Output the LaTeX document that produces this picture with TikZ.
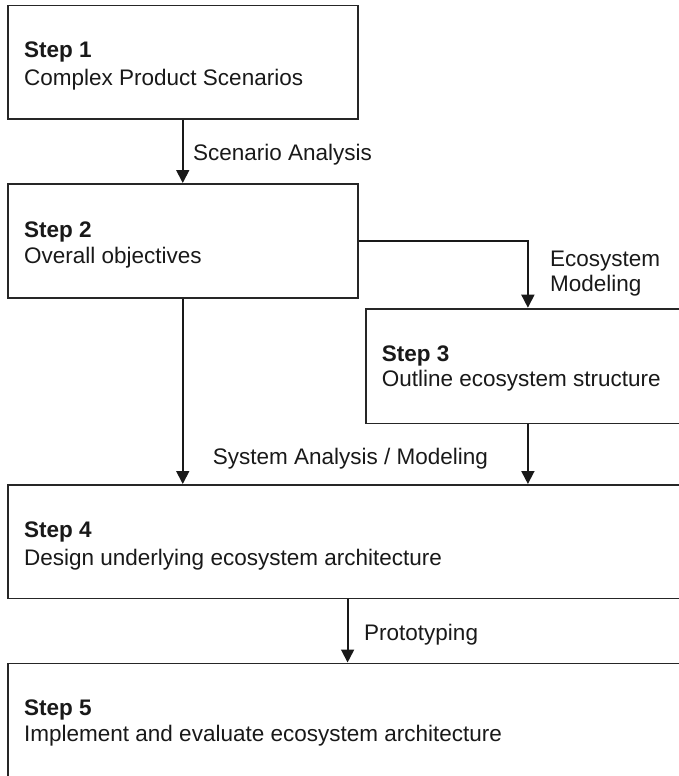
\documentclass[tikz,border=0pt]{standalone}
\usepackage{fontspec}
\setmainfont{Liberation Sans}
\usetikzlibrary{arrows.meta,calc}
\begin{document}
\begin{tikzpicture}[x=1pt,y=-1pt,
  stepbox/.style={draw=black!85,line width=1.8pt,rectangle,inner sep=0pt,anchor=north west,fill=white},
  txt/.style={anchor=base west,inner sep=0pt,text=black!90,font=\fontsize{22.5}{27}\selectfont},
  ttl/.style={txt,font=\fontsize{22.5}{27}\selectfont\bfseries},
  conn/.style={draw=black!90,line width=1.8pt,-{Triangle[width=13pt,length=13pt]}}]
\useasboundingbox (0,0) rectangle (679,776);
\clip (0,0) rectangle (679,776);
% boxes
\node[stepbox,minimum width=350.3pt,minimum height=113.3pt] (s1) at (6.7,4.7) {};
\node[stepbox,minimum width=350.3pt,minimum height=114pt] (s2) at (6.7,183) {};
\node[stepbox,minimum width=324pt,minimum height=114.8pt] (s3) at (365,307.7) {};
\node[stepbox,minimum width=680pt,minimum height=113.5pt] (s4) at (6.7,484) {};
\node[stepbox,minimum width=680pt,minimum height=113.5pt] (s5) at (6.7,662.5) {};
% texts
\node[ttl] (t1) at ($(s1.north west)+(17.3,53.3)$) {Step 1};
\node[txt] (d1) at ($(s1.north west)+(17.3,80.3)$) {Complex Product Scenarios};
\node[ttl] (t2) at ($(s2.north west)+(17.3,54)$) {Step 2};
\node[txt] (d2) at ($(s2.north west)+(17.3,80)$) {Overall objectives};
\node[ttl] (t3) at ($(s3.north west)+(16.7,54)$) {Step 3};
\node[txt] (d3) at ($(s3.north west)+(16.7,79)$) {Outline ecosystem structure};
\node[ttl] (t4) at ($(s4.north west)+(17.3,53)$) {Step 4};
\node[txt] (d4) at ($(s4.north west)+(17.3,81)$) {Design underlying ecosystem architecture};
\node[ttl] (t5) at ($(s5.north west)+(17.3,52.5)$) {Step 5};
\node[txt] (d5) at ($(s5.north west)+(17.3,79.2)$) {Implement and evaluate ecosystem architecture};
% connectors
\draw[conn] (s1.south) -- (s2.north);
\draw[conn] (s2.east) -| (s3.north);
\draw[conn] (s2.south) -- (s2.south |- s4.north);
\draw[conn] (s3.south) -- (s3.south |- s4.north);
\draw[conn] (s4.south) -- (s5.north);
% connector labels
\node[txt] (l1) at (193,160.5) {Scenario Analysis};
\node[txt] (l2a) at (550,266.7) {Ecosystem};
\node[txt] (l2b) at (550,291.7) {Modeling};
\node[txt] (l3) at (212.7,464.3) {System Analysis / Modeling};
\node[txt] (l4) at (364,640.7) {Prototyping};
\end{tikzpicture}
\end{document}
